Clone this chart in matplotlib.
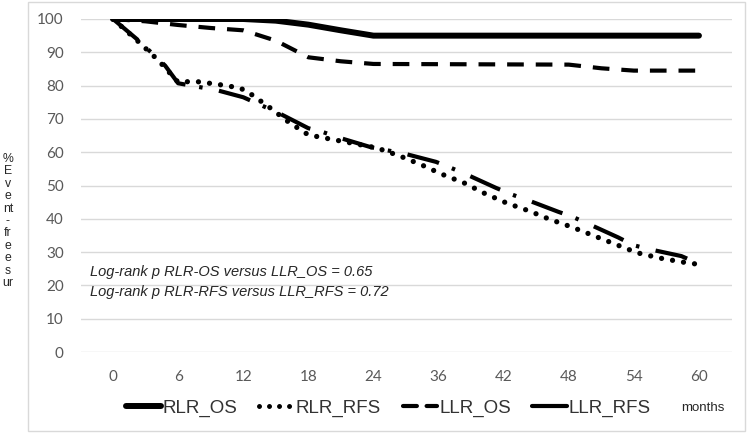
import matplotlib
matplotlib.use("Agg")
import matplotlib.pyplot as plt
from matplotlib.patches import Rectangle
from matplotlib.lines import Line2D

plt.rcParams['lines.scale_dashes'] = False

# Category axis labels (months)
month_labels = ["0", "6", "12", "18", "24", "36", "42", "48", "54", "60"]

# Curves: x given in category-position units (0 = "0", 9 = "60")
rlr_os_x = [0, 2.0, 2.5, 3.0, 3.5, 4.0, 9.0]
rlr_os_y = [100, 100, 99.5, 98.3, 96.6, 95.0, 95.0]

rlr_rfs_x = [0, 0.4, 0.7, 1.0, 1.25, 1.6, 1.95, 2.1, 2.4, 2.7, 3.0, 3.35, 3.7, 4.05,
             4.4, 4.75, 5.05, 5.4, 5.7, 6.05, 6.4, 6.7, 7.05, 7.4, 7.75, 8.05, 8.4,
             8.75, 9.0]
rlr_rfs_y = [100, 93, 87.5, 81.0, 81.3, 80.4, 79.3, 77.7, 73.5, 69.0, 65.2, 63.9, 62.6,
             61.3, 58.9, 56.1, 53.4, 50.7, 47.7, 44.7, 42.3, 39.9, 37.5, 34.8, 32.1,
             29.8, 28.2, 27.0, 26.3]

llr_os_x = [0, 0.5, 1.0, 1.5, 2.0, 2.5, 3.0, 3.5, 4.0, 7.0, 7.5, 8.0, 9.0]
llr_os_y = [100, 99.3, 98.2, 97.3, 96.6, 93.5, 88.5, 87.3, 86.5, 86.3, 85.2, 84.5, 84.5]

llr_rfs_x = [0, 0.4, 0.8, 1.0, 1.6, 2.0, 2.55, 3.0, 3.23, 3.5, 3.96, 4.47, 4.96, 5.19,
             5.42, 5.88, 6.11, 6.37, 6.84, 7.07, 7.31, 7.76, 7.99, 8.23, 8.73, 9.0]
llr_rfs_y = [100, 93.4, 86.0, 80.7, 78.6, 76.5, 71.7, 67.2, 66.0, 64.2, 61.5, 59.6, 57.1,
             55.3, 53.4, 49.3, 47.4, 45.6, 42.1, 40.5, 38.4, 34.4, 32.1, 30.9, 28.8, 26.5]

y_ticks = [0, 10, 20, 30, 40, 50, 60, 70, 80, 90, 100]

annot_lines = ["Log-rank p RLR-OS versus LLR_OS = 0.65",
               "Log-rank p RLR-RFS versus LLR_RFS = 0.72"]
ylabel_text = "%\nE\nv\ne\nnt\n-\nfr\ne\ne\ns\nur"

W, H = 749, 433
fig = plt.figure(figsize=(W / 100, H / 100), dpi=100)

def px(x0, y0):
    return x0 / W, 1 - y0 / H

# chart border
fig.patches.append(Rectangle((28 / W, 1 - 431 / H), (745 - 28) / W, (431 - 2) / H,
                             transform=fig.transFigure, fill=False,
                             edgecolor="#D9D9D9", linewidth=1.0))

left, right = 80.5 / W, 731.5 / W
bottom, top = 1 - 352 / H, 1 - 19 / H
ax = fig.add_axes([left, bottom, right - left, top - bottom])

grey = "#595959"
tick_font = ["Lato", "DejaVu Sans"]

ax.set_xlim(-0.5, 9.5)
ax.set_ylim(0, 100)
ax.set_yticks(y_ticks)
ax.set_yticklabels([str(v) for v in y_ticks], fontsize=11, color=grey, family=tick_font)
ax.set_xticks(range(len(month_labels)))
ax.set_xticklabels(month_labels, fontsize=11, color=grey, family=tick_font)
ax.tick_params(axis='both', length=0)
ax.tick_params(axis='y', pad=12)
ax.tick_params(axis='x', pad=13)
for s in ax.spines.values():
    s.set_visible(False)
ax.grid(axis='y', color="#D9D9D9", linewidth=1.0)
ax.set_axisbelow(True)

l1, = ax.plot(rlr_os_x, rlr_os_y, color="black", lw=4.3, solid_capstyle="round",
              solid_joinstyle="round", label="RLR_OS")
l2, = ax.plot(rlr_rfs_x, rlr_rfs_y, color="black", lw=3.8, linestyle=(0, (0.01, 8.0)),
              dash_capstyle="round", label="RLR_RFS")
l3, = ax.plot(llr_os_x, llr_os_y, color="black", lw=3.0, linestyle=(0, (12, 8.6)),
              dash_capstyle="butt", label="LLR_OS")
l4, = ax.plot(llr_rfs_x, llr_rfs_y, color="black", lw=3.0,
              linestyle=(0, (23.5, 10, 2.5, 12)), dash_capstyle="butt", label="LLR_RFS")

# legend handles
h1 = Line2D([], [], color="black", lw=4.3, solid_capstyle="round")
h2 = Line2D([], [], color="black", lw=3.6, linestyle=(0, (0.01, 7.2)), dash_capstyle="round")
h3 = Line2D([], [], color="black", lw=3.0, linestyle=(0, (10, 7)), dash_capstyle="round")
h4 = Line2D([], [], color="black", lw=3.0, solid_capstyle="round")
leg = fig.legend([h1, h2, h3, h4], ["RLR_OS", "RLR_RFS", "LLR_OS", "LLR_RFS"],
                 loc="center left", bbox_to_anchor=px(113, 408), ncol=4, frameon=False,
                 handlelength=1.85, handletextpad=0.1, columnspacing=1.15,
                 borderpad=0.2,
                 prop={"family": ["Liberation Sans Narrow", "Liberation Sans", "DejaVu Sans"],
                       "size": 13.5})
for t in leg.get_texts():
    t.set_color("#333333")

fig.text(*px(703, 408), "months", ha="center", va="center", fontsize=9.5,
         family=["Liberation Sans Narrow", "Liberation Sans"], color="#262626")

for i, line in enumerate(annot_lines):
    ax.text(*px(90, 272 + 20 * i), line, transform=fig.transFigure, ha="left",
            va="center", fontsize=10.5, style="italic",
            family=["Liberation Sans Narrow", "Liberation Sans"], color="#262626")

fig.text(*px(8, 221), ylabel_text, ha="center", va="center", fontsize=8.8,
         linespacing=1.05, family=["Liberation Sans", "DejaVu Sans"], color="#262626")

fig.savefig("out.png", dpi=100)
